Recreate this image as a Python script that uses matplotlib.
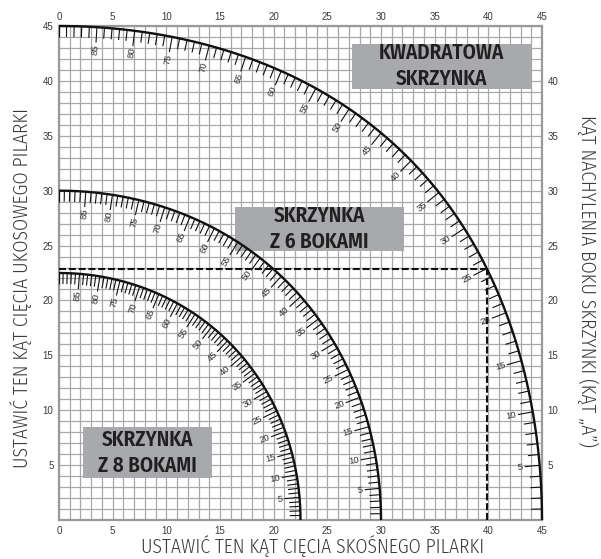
import numpy as np
import matplotlib
matplotlib.use("Agg")
import matplotlib.pyplot as plt
from matplotlib.patches import Rectangle
from matplotlib.ticker import MultipleLocator

# ---------------- data ----------------
box_sides = [4, 6, 8]
box_titles = ["KWADRATOWA\nSKRZYNKA", "SKRZYNKA\nZ 6 BOKAMI", "SKRZYNKA\nZ 8 BOKAMI"]
tilt_tick_angles = list(range(0, 91))            # one mark per degree of side tilt
tilt_label_angles = [5, 10, 15, 20, 25, 30, 35, 40, 45, 50, 55, 60, 65, 70, 75, 80, 85]
example_tilt = 25                                 # worked example on the square box
bottom_ticks = [0, 5, 10, 15, 20, 25, 30, 35, 40, 45]
top_ticks = [0, 5, 10, 15, 20, 25, 30, 35, 40, 45]
left_ticks = [5, 10, 15, 20, 25, 30, 35, 40, 45]
right_ticks = [5, 10, 15, 20, 25, 30, 35, 40]
xlabel = "USTAWIĆ TEN KĄT CIĘCIA SKOŚNEGO PILARKI"
ylabel = "USTAWIĆ TEN KĄT CIĘCIA UKOSOWEGO PILARKI"
rlabel = "KĄT NACHYLENIA BOKU SKRZYNKI (KĄT „A”)"


def bevel_miter(tilt, n):
    half = np.radians(180.0 / n)
    t = np.radians(tilt)
    bevel = np.degrees(np.arcsin(np.cos(t) * np.sin(half)))
    miter = np.degrees(np.arctan(np.sin(t) * np.tan(half)))
    return bevel, miter


LIGHT = ["Fira Sans Condensed", "DejaVu Sans"]
BOLDN = ["Fira Sans Condensed", "DejaVu Sans"]
SANS = ["Liberation Sans", "DejaVu Sans"]

fig = plt.figure(figsize=(6.01, 5.59), dpi=100)
ax = fig.add_axes([59 / 601, 39 / 559, 483 / 601, 494 / 559])
ax.set_xlim(0, 45)
ax.set_ylim(0, 45)
renderer = fig.canvas.get_renderer()


def fit_text(t, target_px, vertical=False):
    bb = t.get_window_extent(renderer)
    size = bb.height if vertical else bb.width
    t.set_fontsize(t.get_fontsize() * target_px / size)


# grid
ax.xaxis.set_minor_locator(MultipleLocator(1))
ax.yaxis.set_minor_locator(MultipleLocator(1))
ax.grid(which="both", color="#a8a8a8", lw=0.9, zorder=0)
ax.set_axisbelow(True)
for s in ax.spines.values():
    s.set_color("#9a9a9a")
    s.set_linewidth(1.6)

tick_kw = dict(family=SANS, fontsize=7, color="#3a3a3a")
ax.set_xticks(bottom_ticks)
ax.set_xticklabels([str(v) for v in bottom_ticks], **tick_kw)
ax.set_yticks(left_ticks)
ax.set_yticklabels([str(v) for v in left_ticks], **tick_kw)
ax.tick_params(which="both", length=0, pad=4)

axt = ax.secondary_xaxis("top")
axt.set_xticks(top_ticks)
axt.set_xticklabels([str(v) for v in top_ticks], **tick_kw)
axt.tick_params(length=0, pad=3)
axt.spines["top"].set_visible(False)
axr = ax.secondary_yaxis("right")
axr.set_yticks(right_ticks)
axr.set_yticklabels([str(v) for v in right_ticks], **tick_kw)
axr.tick_params(length=0, pad=4)
axr.spines["right"].set_visible(False)

# label boxes
box_rects = [(27.3, 39.3, 16.7, 4.1), (16.4, 24.5, 15.7, 4.0), (2.2, 3.8, 12.1, 4.65)]
for (x0, y0, w, h), title in zip(box_rects, box_titles):
    ax.add_patch(Rectangle((x0, y0), w, h, facecolor="#a7a9ac", edgecolor="none", zorder=2))
    t = ax.text(x0 + w / 2, y0 + h / 2, title, ha="center", va="center", family=BOLDN,
                fontweight=600, fontsize=14, color="#231f20", linespacing=1.3, zorder=3)
    probe = ax.text(0, 0, "SKRZYNKA", family=BOLDN, fontweight=600, fontsize=14)
    bb = probe.get_window_extent(renderer)
    t.set_fontsize(14 * 92 / bb.width)
    probe.remove()

# curves with tilt scales
short_len = 1.0
long_len = 1.4
lab_off = 1.55
for n in box_sides:
    a_fine = np.linspace(0, 90, 500)
    bx, my = bevel_miter(a_fine, n)
    ax.plot(bx, my, color="#111111", lw=1.7, zorder=5, clip_on=False, solid_capstyle="butt")
    for a in tilt_tick_angles:
        x, y = bevel_miter(a, n)
        x1, y1 = bevel_miter(a - 0.05, n)
        x2, y2 = bevel_miter(a + 0.05, n)
        tx, ty = x2 - x1, y2 - y1
        norm = np.hypot(tx, ty)
        nx, ny = -ty / norm, tx / norm     # inward normal
        L = long_len if a in tilt_label_angles else short_len
        ax.plot([x, x + nx * L], [y, y + ny * L], color="#111111", lw=0.8, zorder=4,
                solid_capstyle="butt")
        if a in tilt_label_angles:
            rot = np.degrees(np.arctan2(-ny, -nx))
            ax.text(x + nx * lab_off, y + ny * lab_off, str(a), rotation=rot,
                    rotation_mode="anchor", ha="right", va="center", family=SANS,
                    fontsize=6.8, color="#333333", zorder=4)

# worked example (square box, tilt 25)
ex_b, ex_m = bevel_miter(example_tilt, box_sides[0])
ax.plot([0, ex_b], [ex_m, ex_m], color="#111111", lw=1.5, ls=(0, (3.4, 1.3)), zorder=4)
ax.plot([ex_b, ex_b], [0, ex_m], color="#111111", lw=1.5, ls=(0, (3.4, 1.3)), zorder=4)

# axis titles
lab_kw = dict(ha="center", va="center", family=LIGHT, fontweight=300, fontsize=15,
              color="#3a3a3a")
tb = fig.text(313 / 601, 1 - 546 / 559, xlabel, **lab_kw)
fit_text(tb, 343)
tl = fig.text(21.5 / 601, 1 - 287.5 / 559, ylabel, rotation=90, **lab_kw)
fit_text(tl, 361, vertical=True)
tr = fig.text(588 / 601, 1 - 281 / 559, rlabel, rotation=-90, **lab_kw)
fit_text(tr, 332, vertical=True)

fig.savefig("out.png", dpi=100, facecolor="white")
